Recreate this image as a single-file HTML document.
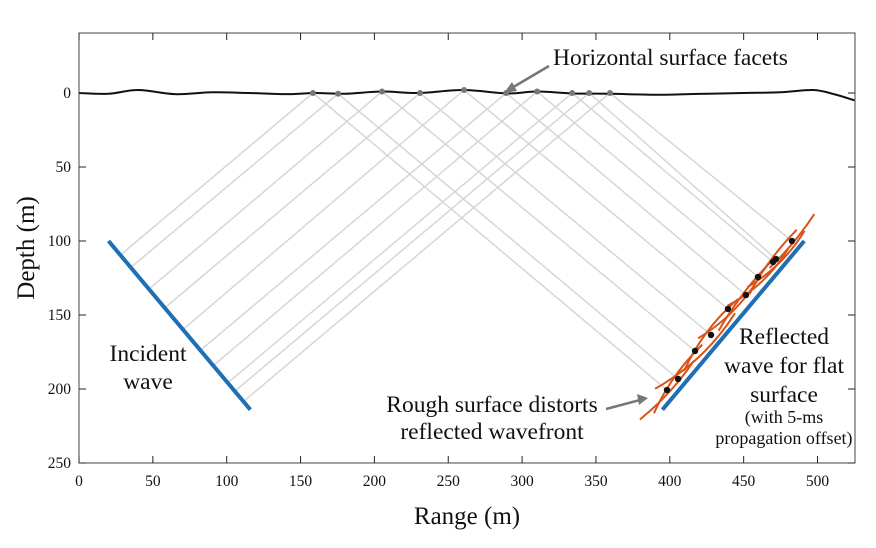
<!DOCTYPE html>
<html><head><meta charset="utf-8"><style>
body{margin:0;background:#fff}
svg text{font-family:"Liberation Serif",serif;fill:#111}
</style></head><body>
<svg id="chart" width="876" height="543" viewBox="0 0 876 543" xmlns="http://www.w3.org/2000/svg">
<g id="rays"></g>
<g id="surf"></g>
<g id="waves"></g>
<g id="axes"></g>
<text x="553" y="65" font-size="23.5">Horizontal surface facets</text>
<line x1="549" y1="66" x2="510" y2="89" stroke="#777" stroke-width="2.5"/>
<polygon points="504,93 512,82 517,91" fill="#777"/>
<text x="148" y="361" font-size="23.5" text-anchor="middle"><tspan x="148">Incident</tspan><tspan x="148" dy="28">wave</tspan></text>
<text x="784" y="344" font-size="23.5" text-anchor="middle"><tspan x="784">Reflected</tspan><tspan x="784" dy="29">wave for flat</tspan><tspan x="784" dy="29">surface</tspan></text>
<text x="784" y="423" font-size="18" text-anchor="middle"><tspan x="784">(with 5-ms</tspan><tspan x="784" dy="21">propagation offset)</tspan></text>
<text x="492" y="412" font-size="23.5" text-anchor="middle"><tspan x="492">Rough surface distorts</tspan><tspan x="492" dy="27">reflected wavefront</tspan></text>
<line x1="606" y1="409" x2="640" y2="400" stroke="#777" stroke-width="2.5"/>
<polygon points="648,398 637,394 639,405" fill="#777"/>
<text x="467" y="524" font-size="25" text-anchor="middle">Range (m)</text>
<text transform="translate(34,248) rotate(-90)" font-size="25" text-anchor="middle">Depth (m)</text>
</svg>
<script>
const xTicks=[0,50,100,150,200,250,300,350,400,450,500];
const yTicks=[0,50,100,150,200,250];
const surfX=[0,20,40,65,90,115,140,160,180,205,230,260,290,310,335,360,390,420,450,475,497,512,525];
const surfD=[0,0.5,-2,0.8,-0.5,0,0.8,0,0.5,-1,0,-2,0.3,-1,0.3,0.5,1.2,0.6,0,-0.5,-2,1,5];
const facetX=[158.4,175.4,205.2,230.9,260.7,289.2,310.2,333.9,345.4,359.5];
const facetD=[0,0.5,-1,0,-2,0,-1,0,0,0];
const dotX=[398.1,405.6,417.1,427.9,439.4,451.6,459.7,469.9,471.9,482.7];
const dotD=[200.7,193.2,174.3,163.5,145.9,136.5,124.3,114.2,112.2,100];
const curv=[3,-4,7,-5,5,-3,6,-3,5,2];
const tilt=[0.05,-0.08,0.12,-0.05,0.1,-0.04,0.12,-0.06,0.1,0];
const halfLen=[40,42,55,45,42,45,42,40,40,35];
const incident=[[20,100],[116,214]];
const flat=[[395,214],[491,100]];
const sx=v=>79+v*1.477, sy=v=>93+v*1.48;
const NS="http://www.w3.org/2000/svg";
function mk(g,t,a){const e=document.createElementNS(NS,t);for(const k in a)e.setAttribute(k,a[k]);document.getElementById(g).appendChild(e);return e;}
let e=mk('axes','rect',{x:79,y:33,width:776,height:430,fill:'none',stroke:'#444','stroke-width':1});


xTicks.forEach(v=>{
 e=mk('axes','line',{x1:sx(v),x2:sx(v),y1:463,y2:456,stroke:'#222'});
 
 
 e=mk('axes','line',{x1:sx(v),x2:sx(v),y1:33,y2:40,stroke:'#222'});
 
 
 e=mk('axes','text',{x:sx(v),y:486,'font-size':15.5,'text-anchor':'middle'});e.textContent=v;
 
 
});
yTicks.forEach(v=>{
 e=mk('axes','line',{x1:79,x2:86,y1:sy(v),y2:sy(v),stroke:'#222'});
 
 
 e=mk('axes','line',{x1:848,x2:855,y1:sy(v),y2:sy(v),stroke:'#222'});
 
 
 e=mk('axes','text',{x:71,y:sy(v)+5,'font-size':15.5,'text-anchor':'end'});e.textContent=v;
 
 
});
const s=0.84;
const [a,b]=incident;const m=(b[1]-a[1])/(b[0]-a[0]);
facetX.forEach((x0,i)=>{
 const t=(a[1]+m*(x0-a[0]))/(s+m);
 const ix=x0-t, iy=s*t;
 e=mk('rays','line',{x1:sx(x0),y1:sy(facetD[i]),x2:sx(ix),y2:sy(iy),stroke:'#d6d6d6','stroke-width':1.5});
 
 
 e=mk('rays','line',{x1:sx(x0),y1:sy(facetD[i]),x2:sx(dotX[i]),y2:sy(dotD[i]),stroke:'#d6d6d6','stroke-width':1.5});
 
 
});
const P=surfX.map((x,i)=>[sx(x),sy(surfD[i])]);
let d='M'+P[0];
for(let i=0;i<P.length-1;i++){
 const p0=P[Math.max(0,i-1)],p1=P[i],p2=P[i+1],p3=P[Math.min(P.length-1,i+2)];
 const c1=[p1[0]+(p2[0]-p0[0])/6,p1[1]+(p2[1]-p0[1])/6],c2=[p2[0]-(p3[0]-p1[0])/6,p2[1]-(p3[1]-p1[1])/6];
 d+=` C${c1} ${c2} ${p2}`;
}
e=mk('surf','path',{d,fill:'none',stroke:'#111','stroke-width':2});


facetX.forEach((x,i)=>{
 e=mk('surf','circle',{cx:sx(x),cy:sy(facetD[i]),r:3,fill:'#777'});
 
 
});
[incident,flat].forEach((L,k)=>{
 e=mk('waves','line',{x1:sx(L[0][0]),y1:sy(L[0][1]),x2:sx(L[1][0]),y2:sy(L[1][1]),stroke:'#1f6fb5','stroke-width':4});
 
 
});
dotX.forEach((x,i)=>{
 const ang=Math.atan2(-0.77,0.64)+tilt[i];
 const ux=Math.cos(ang),uy=Math.sin(ang);
 const cx=sx(x),cy=sy(dotD[i]),h=halfLen[i],c=curv[i];
 const p1=[cx-ux*h,cy-uy*h],p2=[cx+ux*h,cy+uy*h];
 const q=[cx+(-uy)*c*2,cy+ux*c*2];
 e=mk('waves','path',{d:`M${p1} Q${q} ${p2}`,fill:'none',stroke:'#d95319','stroke-width':2});
 
 
});
dotX.forEach((x,i)=>{
 e=mk('waves','circle',{cx:sx(x),cy:sy(dotD[i]),r:3.2,fill:'#111'});
 
 
});
</script>
</body></html>
